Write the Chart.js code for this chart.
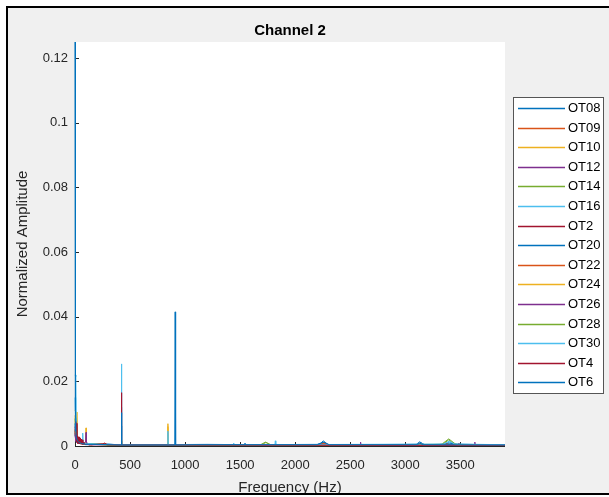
<!DOCTYPE html>
<html>
<head>
<meta charset="utf-8">
<title>Channel 2</title>
<script src="https://cdn.jsdelivr.net/npm/chart.js@4.4.1/dist/chart.umd.min.js"></script>
<style>
  html, body { margin: 0; padding: 0; background: #ffffff; }
  canvas { display: block; }
</style>
</head>
<body>
<canvas id="spec" width="609" height="497"></canvas>
<script>
// Normalized amplitude spectra, channel 2, one series per OT recording.
// Each entry is [frequency in Hz, normalized amplitude].
const OT08 = [[0,0.0048],[6,0.0016],[15,0.0021],[28,0.0009],[45,0.0013],[70,0.0006],[110,0.0004],[180,0.0005],[300,0.0006],[419,0.0003],[422,0.0062],[425,0.0003],[700,0.0004],[1200,0.0005],[1600,0.0004],[2200,0.0005],[2250,0.0011],[2300,0.0004],[2800,0.0004],[3110,0.0005],[3140,0.0010],[3180,0.0004],[3420,0.0006],[3906,0.0003]];
const OT09 = [[0,0.0052],[7,0.0019],[18,0.0011],[35,0.0008],[60,0.0012],[90,0.0005],[140,0.0004],[260,0.0007],[300,0.0004],[600,0.0003],[1400,0.0003],[2200,0.0003],[2260,0.0009],[2310,0.0003],[3100,0.0004],[3135,0.0007],[3170,0.0002],[3906,0.0002]];
const OT10 = [[0,0.0095],[8,0.0030],[20,0.0012],[50,0.0008],[96,0.0010],[100,0.0056],[104,0.0008],[160,0.0005],[400,0.0003],[840,0.0003],[844,0.0060],[848,0.0003],[1500,0.0002],[3906,0.0002]];
const OT12 = [[0,0.0040],[10,0.0014],[30,0.0009],[60,0.0007],[96,0.0012],[100,0.0042],[104,0.0010],[150,0.0004],[500,0.0003],[2590,0.0003],[2594,0.0012],[2598,0.0003],[3470,0.0003],[3486,0.0008],[3500,0.0003],[3628,0.0003],[3632,0.0012],[3636,0.0003],[3906,0.0002]];
const OT14 = [[0,0.0085],[9,0.0025],[22,0.0010],[45,0.0007],[80,0.0009],[130,0.0005],[250,0.0004],[600,0.0003],[1690,0.0003],[1735,0.0011],[1780,0.0003],[3340,0.0005],[3395,0.0019],[3450,0.0005],[3906,0.0002]];
const OT16 = [[0,0.0150],[6,0.0040],[16,0.0016],[40,0.0010],[66,0.0011],[70,0.0040],[74,0.0010],[120,0.0005],[419,0.0004],[422,0.0120],[425,0.0004],[840,0.0004],[844,0.0040],[848,0.0004],[1436,0.0003],[1440,0.0009],[1444,0.0003],[1816,0.0003],[1820,0.0016],[1824,0.0003],[3360,0.0004],[3400,0.0013],[3440,0.0004],[3906,0.0003]];
const OT2  = [[0,0.0060],[8,0.0028],[18,0.0020],[24,0.0009],[30,0.0026],[36,0.0008],[45,0.0016],[52,0.0006],[60,0.0018],[68,0.0007],[80,0.0012],[95,0.0004],[120,0.0005],[250,0.0007],[290,0.0004],[600,0.0003],[1500,0.0003],[3906,0.0002]];
const OT20 = [[0,0.0070],[5,0.0022],[14,0.0012],[30,0.0009],[55,0.0014],[90,0.0006],[200,0.0005],[600,0.0004],[1540,0.0003],[1544,0.0009],[1548,0.0003],[2220,0.0004],[2255,0.0016],[2300,0.0004],[3100,0.0005],[3131,0.0013],[3170,0.0004],[3300,0.0004],[3400,0.0009],[3490,0.0004],[3906,0.0003]];
const OT22 = [[0,0.0045],[9,0.0017],[25,0.0013],[50,0.0008],[85,0.0006],[150,0.0004],[270,0.0008],[310,0.0003],[800,0.0003],[2230,0.0003],[2265,0.0010],[2300,0.0003],[3115,0.0003],[3145,0.0007],[3175,0.0002],[3360,0.0003],[3380,0.0007],[3400,0.0003],[3906,0.0002]];
const OT24 = [[0,0.0110],[12,0.0105],[18,0.0020],[40,0.0009],[70,0.0006],[150,0.0006],[419,0.0003],[422,0.0018],[425,0.0003],[840,0.0003],[844,0.0069],[848,0.0003],[1600,0.0003],[3906,0.0002]];
const OT26 = [[0,0.0035],[8,0.0015],[20,0.0010],[50,0.0007],[100,0.0005],[200,0.0004],[400,0.0003],[1000,0.0003],[3470,0.0003],[3490,0.0007],[3510,0.0003],[3906,0.0002]];
const OT28 = [[0,0.0090],[14,0.0086],[20,0.0018],[40,0.0009],[80,0.0006],[140,0.0007],[300,0.0003],[419,0.0003],[422,0.0015],[425,0.0003],[1680,0.0003],[1730,0.0012],[1780,0.0003],[3330,0.0005],[3395,0.0022],[3460,0.0005],[3906,0.0002]];
const OT30 = [[0,0.0220],[8,0.0215],[12,0.0040],[25,0.0015],[50,0.0012],[100,0.0008],[200,0.0006],[419,0.0004],[422,0.0254],[425,0.0004],[840,0.0004],[844,0.0046],[848,0.0004],[1800,0.0004],[3350,0.0006],[3400,0.0015],[3450,0.0006],[3906,0.0004]];
const OT4  = [[0,0.0075],[8,0.0073],[14,0.0070],[18,0.0012],[22,0.0030],[26,0.0008],[30,0.0026],[34,0.0010],[38,0.0028],[42,0.0007],[46,0.0024],[50,0.0009],[55,0.0021],[60,0.0006],[66,0.0019],[72,0.0005],[80,0.0012],[90,0.0004],[110,0.0006],[130,0.0003],[250,0.0006],[270,0.0009],[290,0.0004],[419,0.0003],[422,0.0165],[425,0.0003],[900,0.0003],[3906,0.0002]];
const OT6  = [[0,0.125],[4,0.0110],[10,0.0030],[20,0.0018],[35,0.0012],[60,0.0008],[100,0.0005],[200,0.0005],[419,0.0003],[422,0.0103],[425,0.0003],[906,0.0003],[910,0.0415],[914,0.0003],[1100,0.0004],[2200,0.0004],[2260,0.0012],[2310,0.0004],[3110,0.0004],[3130,0.0009],[3160,0.0004],[3906,0.0003]];

const seriesNames = ['OT08','OT09','OT10','OT12','OT14','OT16','OT2','OT20','OT22','OT24','OT26','OT28','OT30','OT4','OT6'];
const seriesData  = [OT08, OT09, OT10, OT12, OT14, OT16, OT2, OT20, OT22, OT24, OT26, OT28, OT30, OT4, OT6];

// Axis ticks
const xTicks = [0, 500, 1000, 1500, 2000, 2500, 3000, 3500];
const yTicks = [0, 0.02, 0.04, 0.06, 0.08, 0.1, 0.12];
const xMax = 3906;
const yMax = 0.125;

// Default colour order, cycled over the series
const palette = ['#0072BD', '#D95319', '#EDB120', '#7E2F8E', '#77AC30', '#4DBEEE', '#A2142F'];

const FONT = '"Liberation Sans", Arial, Helvetica, sans-serif';
const INK = '#262626';

const datasets = seriesNames.map((name, i) => ({
  label: name,
  data: seriesData[i].map(([f, a]) => ({ x: f, y: a })),
  borderColor: palette[i % palette.length],
  backgroundColor: palette[i % palette.length],
  borderWidth: 1,
  pointRadius: 0,
  tension: 0,
  fill: false,
  clip: { left: 1, top: 0, right: 0, bottom: 1 },
  // later series are painted over earlier ones
  order: seriesNames.length - i
}));

// Figure background, white axes box, axis lines and inward tick marks
const figureFrame = {
  id: 'figureFrame',
  beforeDraw(chart) {
    const { ctx, chartArea: a } = chart;
    ctx.save();
    ctx.fillStyle = '#ffffff';
    ctx.fillRect(0, 0, chart.width, chart.height);
    ctx.fillStyle = '#f0f0f0';
    ctx.fillRect(8, 8, chart.width - 8, chart.height - 12);
    ctx.fillStyle = '#ffffff';
    ctx.fillRect(a.left, a.top, a.right - a.left, a.bottom - a.top);
    ctx.restore();
  },
  beforeDatasetsDraw(chart) {
    const { ctx, chartArea: a, scales } = chart;
    ctx.save();
    ctx.strokeStyle = INK;
    ctx.lineWidth = 1;
    ctx.beginPath();
    ctx.moveTo(a.left + 0.5, a.top);
    ctx.lineTo(a.left + 0.5, a.bottom + 0.5);
    ctx.lineTo(a.right, a.bottom + 0.5);
    const tl = 4;
    xTicks.forEach(v => {
      const px = Math.round(scales.x.getPixelForValue(v)) + 0.5;
      ctx.moveTo(px, a.bottom);
      ctx.lineTo(px, a.bottom - tl);
    });
    yTicks.forEach(v => {
      const py = Math.round(scales.y.getPixelForValue(v)) + 0.5;
      ctx.moveTo(a.left, py);
      ctx.lineTo(a.left + tl, py);
    });
    ctx.stroke();
    ctx.restore();
  },
  afterDraw(chart) {
    const { ctx, chartArea: a } = chart;
    const cx = (a.left + a.right) / 2;
    const cy = (a.top + a.bottom) / 2;
    ctx.save();
    ctx.fillStyle = '#000000';
    ctx.textAlign = 'center';
    ctx.textBaseline = 'middle';
    ctx.font = 'bold 15px ' + FONT;
    ctx.fillText('Channel 2', cx, 31);

    ctx.fillStyle = INK;
    ctx.font = '15px ' + FONT;
    ctx.fillText('Frequency (Hz)', cx, 488);
    ctx.save();
    ctx.translate(23, cy);
    ctx.rotate(-Math.PI / 2);
    ctx.fillText('Normalized Amplitude', 0, 0);
    ctx.restore();

    // Legend box to the right of the axes
    const lx = 513, ly = 97, lw = 90, lh = 296;
    ctx.fillStyle = '#ffffff';
    ctx.fillRect(lx, ly, lw, lh);
    ctx.strokeStyle = '#555555';
    ctx.lineWidth = 1;
    ctx.strokeRect(lx + 0.5, ly + 0.5, lw, lh);
    ctx.font = '13px ' + FONT;
    ctx.textAlign = 'left';
    chart.data.datasets.forEach((ds, i) => {
      const y = Math.round(ly + 11 + i * 19.6);
      ctx.fillStyle = ds.borderColor;
      ctx.fillRect(518, y - 0.25, 47, 1.5);
      ctx.fillStyle = '#000000';
      ctx.fillText(ds.label, 568, y + 0.5);
    });

    // Figure border
    ctx.fillStyle = '#000000';
    ctx.fillRect(6, 6, chart.width - 6, 2);
    ctx.fillRect(6, 6, 2, chart.height - 8);
    ctx.fillRect(6, chart.height - 4, chart.width - 6, 2);
    ctx.restore();
  }
};

new Chart(document.getElementById('spec'), {
  type: 'line',
  data: { datasets },
  options: {
    responsive: false,
    animation: false,
    events: [],
    layout: { padding: { left: 0, right: 104, top: 42, bottom: 0 } },
    plugins: { legend: { display: false }, tooltip: { enabled: false }, title: { display: false } },
    scales: {
      x: {
        type: 'linear',
        min: 0,
        max: xMax,
        afterBuildTicks: s => { s.ticks = xTicks.map(v => ({ value: v })); },
        afterFit: s => { s.height = 51; },
        grid: { display: false, drawTicks: false },
        border: { display: false },
        ticks: {
          color: INK,
          font: { family: FONT, size: 13 },
          padding: 12,
          maxRotation: 0,
          autoSkip: false,
          callback: v => String(v)
        }
      },
      y: {
        type: 'linear',
        min: 0,
        max: yMax,
        afterBuildTicks: s => { s.ticks = yTicks.map(v => ({ value: v })); },
        afterFit: s => { s.width = 75; },
        grid: { display: false, drawTicks: false },
        border: { display: false },
        ticks: {
          color: INK,
          font: { family: FONT, size: 13 },
          padding: 7,
          autoSkip: false,
          callback: v => String(+Number(v).toFixed(4))
        }
      }
    }
  },
  plugins: [figureFrame]
});
</script>
</body>
</html>
